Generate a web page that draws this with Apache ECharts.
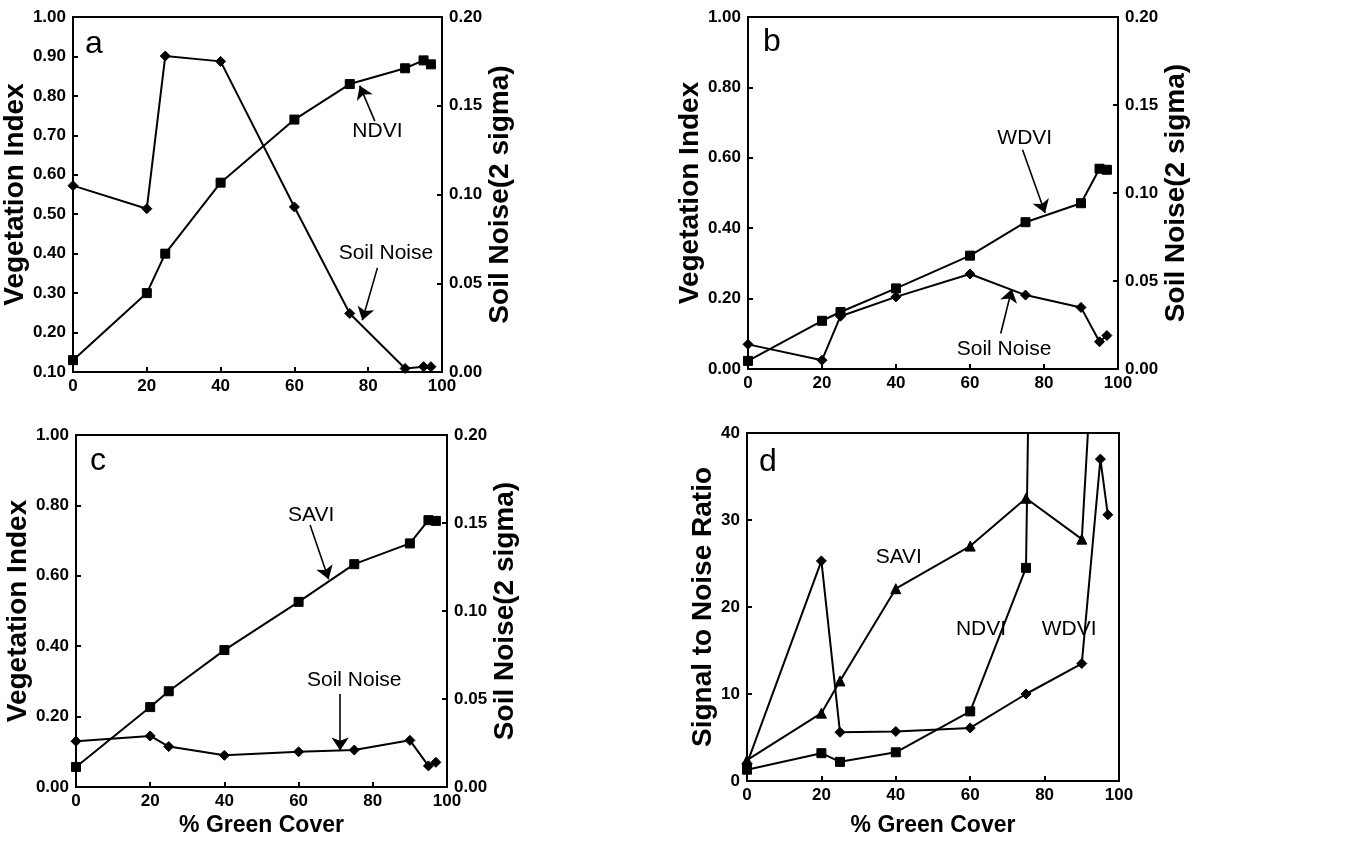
<!DOCTYPE html>
<html>
<head>
<meta charset="utf-8">
<script src="https://cdn.jsdelivr.net/npm/echarts@6/dist/echarts.min.js"></script>
<style>
html,body{margin:0;padding:0;background:#fff;}
#c{width:1352px;height:845px;}
</style>
</head>
<body>
<div id="c"></div>
<script>
// ---------- data ----------
const xCover = [0, 20, 25, 40, 60, 75, 90, 95, 97];
const xTicks = [0, 20, 40, 60, 80, 100];

// panel a
const ndviA  = [0.13, 0.30, 0.40, 0.58, 0.74, 0.83, 0.87, 0.89, 0.88];
const noiseA = [0.105, 0.092, 0.178, 0.175, 0.093, 0.033, 0.002, 0.003, 0.003];
// panel b
const wdviB  = [0.023, 0.137, 0.162, 0.229, 0.322, 0.417, 0.471, 0.569, 0.566];
const noiseB = [0.014, 0.005, 0.030, 0.041, 0.054, 0.042, 0.035, 0.0155, 0.019];
// panel c
const saviC  = [0.057, 0.227, 0.272, 0.389, 0.526, 0.633, 0.692, 0.758, 0.756];
const noiseC = [0.026, 0.029, 0.023, 0.018, 0.020, 0.021, 0.0265, 0.012, 0.014];
// panel d (signal to noise ratio); values above 40 run off the chart
const snrSavi = [2.4, 7.8, 11.5, 22.1, 27.0, 32.5, 27.8, 65];
const snrNdvi = [1.3, 3.2, 2.2, 3.3, 8.0, 24.5, 460];
const snrWdvi = [2.0, 25.3, 5.6, 5.7, 6.1, 10.0, 13.5, 37.0, 30.6];

// annotation labels and arrows (data coordinates on the left axis of each panel)
const labelsA = [["NDVI", 82.5, 0.71], ["Soil Noise", 84.8, 0.402]];
const arrowsA = [[[81.8, 0.736], [77.7, 0.826]], [[82.5, 0.364], [78.4, 0.231]]];
const labelsB = [["WDVI", 74.8, 0.656], ["Soil Noise", 69.2, 0.056]];
const arrowsB = [[[74.2, 0.623], [80.3, 0.443]], [[68.3, 0.101], [71.3, 0.227]]];
const labelsC = [["SAVI", 63.4, 0.773], ["Soil Noise", 75.0, 0.303]];
const arrowsC = [[[63.1, 0.744], [68.1, 0.590]], [[71.2, 0.264], [71.2, 0.104]]];
const labelsD = [["SAVI", 40.8, 25.7], ["NDVI", 62.9, 17.4], ["WDVI", 86.6, 17.4]];
const panelLetters = ["a", "b", "c", "d"];

// ---------- helpers ----------
const FONT = "'Liberation Sans', Arial, Helvetica, sans-serif";
const pairs = (arr) => arr.map((v, i) => [xCover[i], v]);

function xAxisDef(gridIndex, withName, nameGap) {
  return {
    type: 'value', gridIndex: gridIndex, min: 0, max: 100, interval: 20,
    name: withName ? '% Green Cover' : '', nameLocation: 'middle', nameGap: nameGap,
    nameTextStyle: { fontFamily: FONT, fontSize: 23, fontWeight: 'bold', color: '#000' },
    axisLine: { show: true, onZero: false, lineStyle: { color: '#000', width: 2 } },
    axisTick: { show: true, inside: true, length: 5, lineStyle: { color: '#000', width: 2 } },
    axisLabel: { margin: 6, fontFamily: FONT, fontSize: 17, fontWeight: 'bold', color: '#000' },
    splitLine: { show: false }
  };
}
function yAxisDef(gridIndex, pos, min, max, interval, name, nameGap, digits) {
  return {
    type: 'value', gridIndex: gridIndex, position: pos, min: min, max: max, interval: interval,
    name: name, nameLocation: 'middle', nameGap: nameGap, nameRotate: 90,
    nameTextStyle: { fontFamily: FONT, fontSize: 28, fontWeight: 'bold', color: '#000' },
    axisLine: { show: true, onZero: false, lineStyle: { color: '#000', width: 2 } },
    axisTick: { show: true, inside: true, length: 5, lineStyle: { color: '#000', width: 2 } },
    axisLabel: { margin: 7, fontFamily: FONT, fontSize: 17, fontWeight: 'bold', color: '#000',
      formatter: (v) => Number(v).toFixed(digits) },
    splitLine: { show: false }
  };
}
function lineSeries(xi, yi, data, symbol, size, extra) {
  return Object.assign({
    type: 'line', xAxisIndex: xi, yAxisIndex: yi, data: data,
    symbol: symbol, symbolSize: size, showSymbol: true,
    lineStyle: { color: '#000', width: 2 },
    itemStyle: { color: '#000', borderColor: '#000' },
    animation: false, clip: true, z: 3
  }, extra || {});
}
function annotations(labels, arrows) {
  const out = {
    markPoint: {
      symbol: 'circle', symbolSize: 0, animation: false,
      label: { show: true, position: 'inside', fontFamily: FONT, fontSize: 21, color: '#000' },
      data: labels.map(l => ({ coord: [l[1], l[2]], value: l[0],
        label: { formatter: l[0] } }))
    }
  };
  if (arrows) {
    out.markLine = {
      silent: true, animation: false, symbol: ['none', 'arrow'], symbolSize: 13,
      lineStyle: { color: '#000', width: 1.6, type: 'solid' },
      itemStyle: { color: '#000' },
      label: { show: false },
      data: arrows.map(a => [
        { coord: a[0], symbol: 'none' },
        { coord: a[1], symbol: 'arrow', symbolSize: 13, itemStyle: { color: '#000' } }
      ])
    };
  }
  return out;
}

const grids = [
  { left: 73, top: 17, width: 369, height: 355 },
  { left: 748, top: 17, width: 370, height: 352 },
  { left: 76, top: 435, width: 371, height: 352 },
  { left: 747, top: 433, width: 372, height: 348 }
].map(g => Object.assign(g, { show: true, borderColor: '#000', borderWidth: 2,
  backgroundColor: 'transparent', containLabel: false, outerBoundsMode: 'none' }));

const option = {
  backgroundColor: '#fff',
  animation: false,
  grid: grids,
  xAxis: [
    xAxisDef(0, false, 22),
    xAxisDef(1, false, 22),
    xAxisDef(2, true, 27),
    xAxisDef(3, true, 33)
  ],
  yAxis: [
    yAxisDef(0, 'left', 0.1, 1.0, 0.1, 'Vegetation Index', 38, 2),
    yAxisDef(0, 'right', 0, 0.2, 0.05, 'Soil Noise(2 sigma)', 43, 2),
    yAxisDef(1, 'left', 0, 1.0, 0.2, 'Vegetation Index', 38, 2),
    yAxisDef(1, 'right', 0, 0.2, 0.05, 'Soil Noise(2 sigma)', 41, 2),
    yAxisDef(2, 'left', 0, 1.0, 0.2, 'Vegetation Index', 41, 2),
    yAxisDef(2, 'right', 0, 0.2, 0.05, 'Soil Noise(2 sigma)', 40, 2),
    yAxisDef(3, 'left', 0, 40, 10, 'Signal to Noise Ratio', 26, 0)
  ],
  series: [
    lineSeries(0, 0, pairs(ndviA), 'rect', 9, annotations(labelsA, arrowsA)),
    lineSeries(0, 1, pairs(noiseA), 'diamond', 10),
    lineSeries(1, 2, pairs(wdviB), 'rect', 9, annotations(labelsB, arrowsB)),
    lineSeries(1, 3, pairs(noiseB), 'diamond', 10),
    lineSeries(2, 4, pairs(saviC), 'rect', 9, annotations(labelsC, arrowsC)),
    lineSeries(2, 5, pairs(noiseC), 'diamond', 10),
    lineSeries(3, 6, pairs(snrSavi), 'triangle', 10, annotations(labelsD, null)),
    lineSeries(3, 6, pairs(snrNdvi), 'rect', 9),
    lineSeries(3, 6, pairs(snrWdvi), 'diamond', 10)
  ],
  graphic: [
    { type: 'text', left: 85, top: 28, style: { text: panelLetters[0], font: "32px " + FONT, fill: '#000' } },
    { type: 'text', left: 763, top: 26, style: { text: panelLetters[1], font: "32px " + FONT, fill: '#000' } },
    { type: 'text', left: 90, top: 445, style: { text: panelLetters[2], font: "32px " + FONT, fill: '#000' } },
    { type: 'text', left: 759, top: 446, style: { text: panelLetters[3], font: "32px " + FONT, fill: '#000' } }
  ]
};

const chart = echarts.init(document.getElementById('c'), null, { renderer: 'canvas' });
chart.setOption(option);
</script>
</body>
</html>
